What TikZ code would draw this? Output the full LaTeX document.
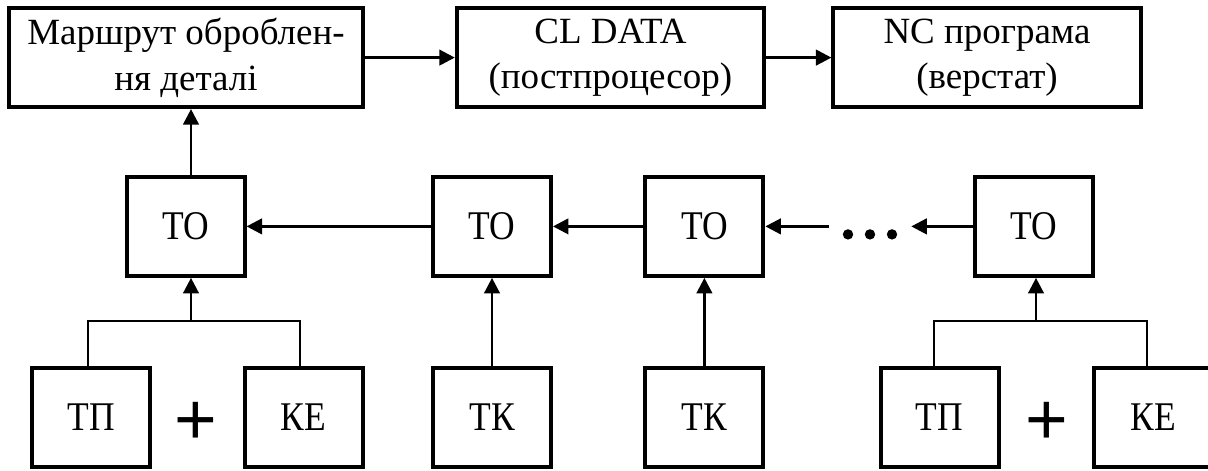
\documentclass[tikz,border=0pt]{standalone}
\usepackage{fontspec}
\setmainfont{Liberation Serif}
\newfontfamily\narrowfont[FakeStretch=0.87]{Liberation Serif}
\newfontfamily\plusfont{Liberation Sans}
\usetikzlibrary{arrows.meta}
\begin{document}
\begin{tikzpicture}[
  blk/.style={draw, line width=2.8pt, minimum width=2.95cm, minimum height=2.475cm, inner sep=0pt, font=\narrowfont\fontsize{29}{34}\selectfont},
  wide/.style={blk, minimum width=7.68cm, align=center, font=\fontsize{26.3}{32.5}\selectfont},
  arr/.style={-{Triangle[length=11pt,width=11pt]}, line width=1.9pt},
  thin/.style={line width=1.4pt},
  plus/.style={font=\plusfont\fontsize{52}{52}\selectfont}
]
\useasboundingbox (0,0) rectangle (30.2,11.75);

% upper row
\node[wide, minimum width=8.85cm] (route) at (4.65,10.31) {Маршрут оброблен-\\ня деталі};
\node[wide] (cl) at (15.26,10.31) {CL DATA\\(постпроцесор)};
\node[wide] (nc) at (24.675,10.31) {NC програма\\(верстат)};
\draw[arr] (route) -- (cl);
\draw[arr] (cl) -- (nc);

% middle row
\node[blk] (to1) at (4.64,6.09) {ТО};
\node[blk] (to2) at (12.3,6.09) {ТО};
\node[blk] (to3) at (17.61,6.09) {ТО};
\node[blk] (to4) at (25.84,6.09) {ТО};
\node[minimum width=2.05cm] (dots) at (21.75,6.09) {};
\foreach \dx in {-0.55,0,0.55}
  \fill ([xshift=\dx cm, yshift=-0.2cm]dots) circle (0.13);
\draw[arr] (to2) -- (to1);
\draw[arr] (to3) -- (to2);
\draw[arr] (dots) -- (to3);
\draw[arr] (to4) -- (dots);

% lower row
\node[blk] (tp1) at (2.28,1.31) {ТП};
\node[blk] (ke1) at (7.59,1.31) {КЕ};
\node[blk] (tk1) at (12.3,1.31) {ТК};
\node[blk] (tk2) at (17.61,1.31) {ТК};
\node[blk] (tp2) at (23.49,1.31) {ТП};
\node[blk] (ke2) at (28.825,1.31) {КЕ};
\node[plus] (plus1) at (4.9,1.175) {+};
\node[plus] (plus2) at (26.175,1.175) {+};

\coordinate (j1) at (4.775,3.725);
\coordinate (j2) at (25.9,3.725);
\draw[thin] ([xshift=-2.5pt]tp1.north) |- (j1) -| ([xshift=-2.5pt]ke1.north);
\draw[thin] ([xshift=-4pt]tp2.north) |- (j2) -| ([xshift=-4pt]ke2.north);
\draw[arr] (j1) -- (j1 |- to1.south);
\draw[arr] (j2) -- (j2 |- to4.south);
\draw[arr] (j1 |- to1.north) -- (j1 |- route.south);
\draw[arr] (tk1) -- (to2);
\draw[arr] (tk2) -- (to3);
\end{tikzpicture}
\end{document}
